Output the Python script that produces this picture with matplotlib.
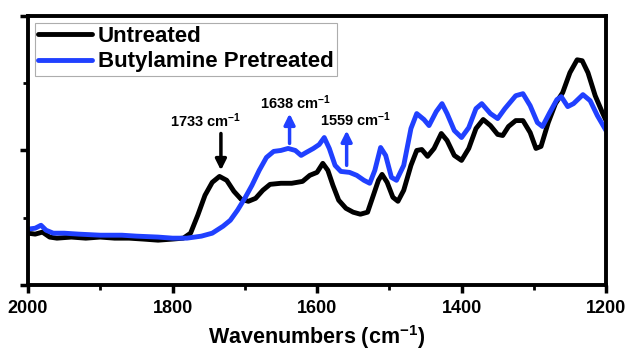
import matplotlib
matplotlib.use('Agg')
import matplotlib.pyplot as plt
from matplotlib.ticker import MultipleLocator

plt.rcParams['font.family'] = ['Liberation Sans', 'DejaVu Sans']
plt.rcParams['font.weight'] = 'bold'
plt.rcParams['mathtext.fontset'] = 'custom'
plt.rcParams['mathtext.rm'] = 'Liberation Sans:bold'
plt.rcParams['mathtext.it'] = 'Liberation Sans:bold'
plt.rcParams['mathtext.bf'] = 'Liberation Sans:bold'

# spectra (wavenumber, arbitrary absorbance)
wn_untreated = [2000, 1990, 1980, 1970, 1960, 1940, 1920, 1900, 1880, 1860, 1840, 1820,
                1800, 1785, 1775, 1765, 1755, 1745, 1735, 1725, 1715, 1705, 1695, 1685,
                1675, 1665, 1650, 1635, 1620, 1610, 1600, 1592, 1585, 1578, 1570, 1560,
                1550, 1540, 1530, 1522, 1515, 1510, 1503, 1495, 1488, 1480, 1470, 1462,
                1455, 1447, 1438, 1428, 1420, 1410, 1400, 1390, 1380, 1370, 1360, 1350,
                1343, 1335, 1325, 1315, 1305, 1297, 1290, 1280, 1270, 1260, 1250, 1240,
                1233, 1225, 1215, 1205, 1200]
abs_untreated = [0.385, 0.378, 0.393, 0.356, 0.348, 0.356, 0.348, 0.356, 0.348, 0.348, 0.341, 0.333,
                 0.341, 0.348, 0.385, 0.519, 0.667, 0.763, 0.807, 0.778, 0.696, 0.637, 0.622, 0.644,
                 0.704, 0.748, 0.756, 0.756, 0.770, 0.815, 0.837, 0.904, 0.852, 0.741, 0.630, 0.570,
                 0.541, 0.526, 0.541, 0.667, 0.778, 0.822, 0.763, 0.652, 0.622, 0.704, 0.889, 1.000,
                 1.007, 0.956, 1.015, 1.126, 1.074, 0.963, 0.926, 1.015, 1.163, 1.230, 1.185, 1.119,
                 1.111, 1.178, 1.222, 1.222, 1.133, 1.015, 1.030, 1.207, 1.348, 1.430, 1.578, 1.674,
                 1.667, 1.578, 1.407, 1.281, 1.222]

wn_treated = [2000, 1990, 1982, 1975, 1965, 1950, 1930, 1900, 1870, 1850, 1820, 1800,
              1780, 1760, 1745, 1730, 1720, 1710, 1700, 1690, 1680, 1670, 1660, 1650,
              1640, 1630, 1622, 1615, 1605, 1597, 1590, 1583, 1575, 1567, 1555, 1545,
              1535, 1527, 1520, 1512, 1505, 1497, 1490, 1480, 1470, 1462, 1452, 1445,
              1435, 1427, 1420, 1410, 1400, 1390, 1380, 1372, 1360, 1350, 1340, 1325,
              1315, 1305, 1295, 1288, 1278, 1268, 1262, 1253, 1245, 1232, 1222, 1212, 1200]
abs_treated = [0.415, 0.422, 0.444, 0.407, 0.385, 0.385, 0.378, 0.370, 0.370, 0.363, 0.356, 0.348,
               0.348, 0.363, 0.385, 0.437, 0.481, 0.556, 0.644, 0.741, 0.852, 0.948, 0.993, 1.000,
               1.015, 1.000, 0.963, 0.985, 1.015, 1.044, 1.096, 1.015, 0.889, 0.844, 0.837, 0.815,
               0.778, 0.756, 0.852, 1.022, 0.963, 0.800, 0.778, 0.889, 1.163, 1.274, 1.230, 1.185,
               1.289, 1.348, 1.274, 1.148, 1.096, 1.170, 1.311, 1.348, 1.274, 1.237, 1.311, 1.407,
               1.422, 1.333, 1.207, 1.178, 1.281, 1.378, 1.400, 1.326, 1.348, 1.415, 1.370, 1.259, 1.148]

blue = '#2040ff'

fig = plt.figure(figsize=(6.29, 3.54), dpi=100)
ax = fig.add_axes([0.0445, 0.195, 0.919, 0.76])

ax.plot(wn_untreated, abs_untreated, color='black', lw=3.5, label='Untreated', solid_capstyle='round')
ax.plot(wn_treated, abs_treated, color=blue, lw=3.5, label='Butylamine Pretreated', solid_capstyle='round')

ax.set_xlim(2000, 1200)
ax.set_ylim(0, 2)
ax.xaxis.set_major_locator(MultipleLocator(200))
ax.xaxis.set_minor_locator(MultipleLocator(100))
ax.yaxis.set_major_locator(MultipleLocator(1))
ax.yaxis.set_minor_locator(MultipleLocator(0.5))
ax.set_yticklabels([])
ax.tick_params(which='major', direction='out', length=6, width=2.5, labelsize=13, pad=5)
ax.tick_params(which='minor', direction='out', length=3.5, width=2)
for lab in ax.get_xticklabels():
    lab.set_fontweight('bold')
for sp in ax.spines.values():
    sp.set_linewidth(2.8)

ax.set_xlabel('Wavenumbers (cm$^{-1}$)', fontsize=15.5, fontweight='bold', labelpad=4)

# peak markers
arrow_kw = dict(arrowstyle='-|>', lw=2.5, mutation_scale=16, shrinkA=0, shrinkB=0)
ax.annotate('', xy=(1733, 0.852), xytext=(1733, 1.126),
            arrowprops=dict(color='black', **arrow_kw))
ax.text(1754, 1.222, '1733 cm$^{-1}$', ha='center', va='center', fontsize=10.5)
ax.annotate('', xy=(1638, 1.274), xytext=(1638, 1.052),
            arrowprops=dict(color=blue, **arrow_kw))
ax.text(1629, 1.356, '1638 cm$^{-1}$', ha='center', va='center', fontsize=10.5)
ax.annotate('', xy=(1559, 1.148), xytext=(1559, 0.889),
            arrowprops=dict(color=blue, **arrow_kw))
ax.text(1547, 1.23, '1559 cm$^{-1}$', ha='center', va='center', fontsize=10.5)

leg = ax.legend(loc='upper left', frameon=True, fancybox=False,
                borderpad=0.15, handlelength=2.45, handletextpad=0.25, labelspacing=0.2,
                borderaxespad=0.3, prop={'weight': 'bold', 'size': 16})
leg.get_frame().set_edgecolor('#999999')
leg.get_frame().set_linewidth(0.8)
for ln in leg.get_lines():
    ln.set_linewidth(3.5)

fig.savefig('out.png', dpi=100)
